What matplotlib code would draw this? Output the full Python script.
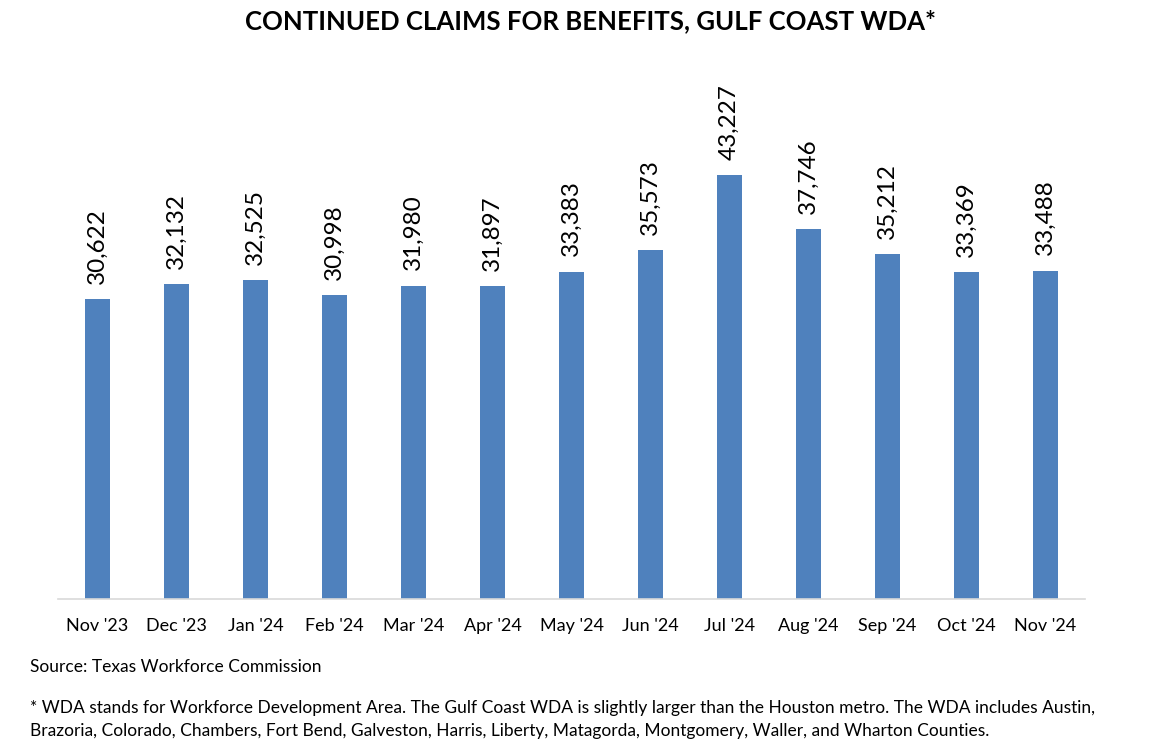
import matplotlib
matplotlib.use('Agg')
import matplotlib.pyplot as plt

months = ["Nov '23", "Dec '23", "Jan '24", "Feb '24", "Mar '24", "Apr '24", "May '24",
          "Jun '24", "Jul '24", "Aug '24", "Sep '24", "Oct '24", "Nov '24"]
claims = [30622, 32132, 32525, 30998, 31980, 31897, 33383,
          35573, 43227, 37746, 35212, 33369, 33488]

title = 'CONTINUED CLAIMS FOR BENEFITS, GULF COAST WDA*'
source = 'Source: Texas Workforce Commission'
note = ('* WDA stands for Workforce Development Area. The Gulf Coast WDA is slightly larger than the '
        'Houston metro. The WDA includes Austin,\nBrazoria, Colorado, Chambers, Fort Bend, Galveston, '
        'Harris, Liberty, Matagorda, Montgomery, Waller, and Wharton Counties.')

plt.rcParams['font.family'] = ['Lato', 'DejaVu Sans']

fig = plt.figure(figsize=(11.61, 7.54), dpi=100)
ax = fig.add_axes([0.05, 0.2056, 0.8845, 0.65])

x = range(len(months))
ax.bar(x, claims, width=0.31, color='#4F81BD')
for i, v in zip(x, claims):
    ax.annotate(f'{v:,}', (i, v), xytext=(0, 11), textcoords='offset points',
                rotation=90, ha='center', va='bottom', fontsize=17.5)

ax.set_xlim(-0.5, len(months) - 0.5)
ax.set_ylim(0, 50000)
ax.set_xticks(list(x))
ax.set_xticklabels(months, fontsize=13)
ax.tick_params(axis='x', length=0, pad=14)
ax.set_yticks([])
for s in ['top', 'right', 'left']:
    ax.spines[s].set_visible(False)
ax.spines['bottom'].set_color('#d9d9d9')
ax.spines['bottom'].set_linewidth(1.2)

fig.text(0.509, 0.972, title, ha='center', va='center', fontsize=18.5, fontweight='bold')
fig.text(0.026, 0.116, source, ha='left', va='center', fontsize=12.5)
fig.text(0.026, 0.046, note, ha='left', va='center', fontsize=12.5, linespacing=1.5)

fig.savefig('out.png', dpi=100)
